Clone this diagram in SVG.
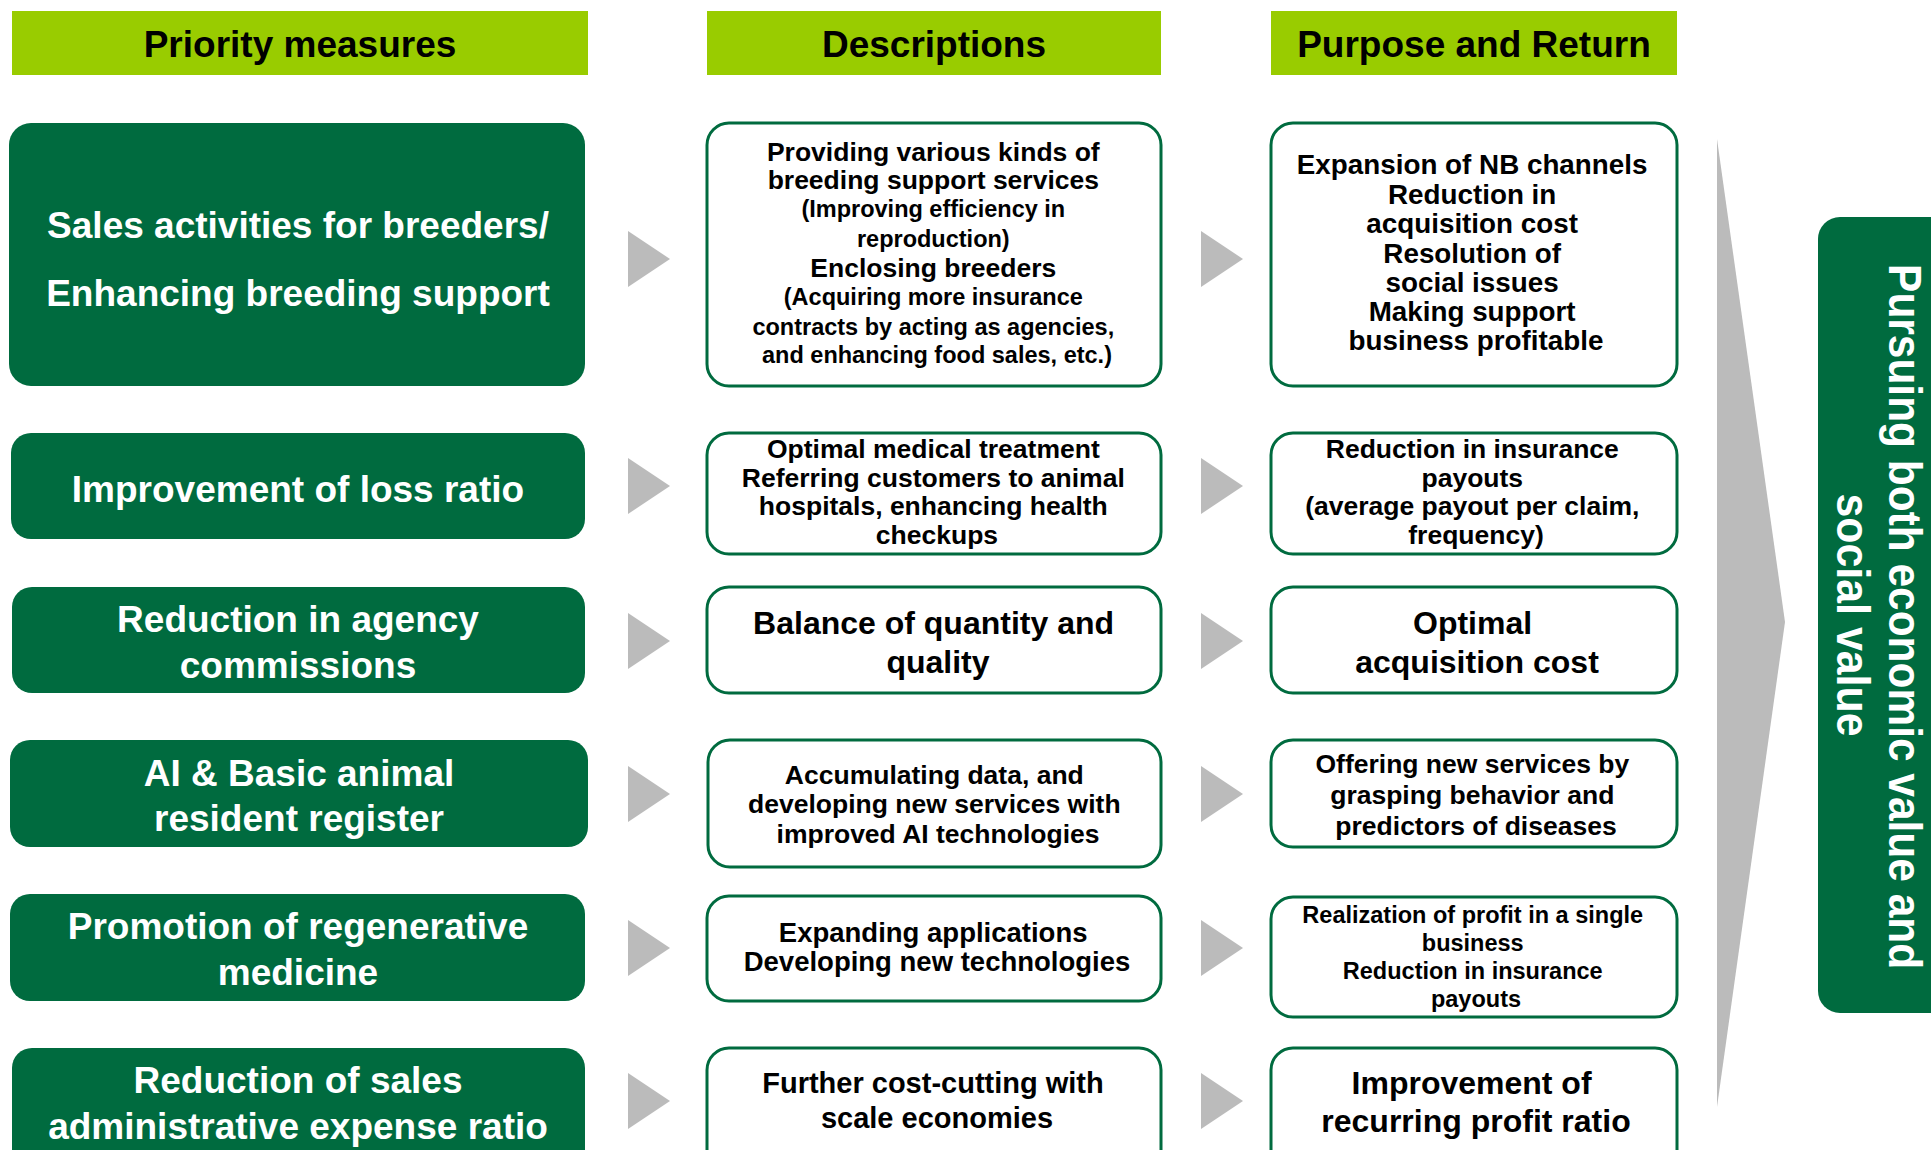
<svg xmlns="http://www.w3.org/2000/svg" width="1931" height="1150" viewBox="0 0 1931 1150">
  <style>
    text { font-family: "Liberation Sans", Arial, sans-serif; font-weight: bold; text-anchor: middle; }
    .hdr { fill: #99CC00; }
    .hdr-t { font-size: 37px; fill: #000000; }
    .measure { fill: #006B3F; }
    .measure-t { font-size: 37px; fill: #FFFFFF; }
    .card { fill: #FFFFFF; stroke: #006B3F; stroke-width: 3; }
    .card-t { fill: #000000; }
    .arrow { fill: #BBBBBB; }
    .goal { fill: #006B3F; }
    .goal-t { font-size: 46px; fill: #FFFFFF; }
  </style>

  <!-- column headers -->
  <g id="header-measures">
    <rect class="hdr" x="12" y="11" width="576" height="64"/>
    <text class="hdr-t" x="300" y="57">Priority measures</text>
  </g>
  <g id="header-descriptions">
    <rect class="hdr" x="707" y="11" width="454" height="64"/>
    <text class="hdr-t" x="934" y="57">Descriptions</text>
  </g>
  <g id="header-purpose">
    <rect class="hdr" x="1271" y="11" width="406" height="64"/>
    <text class="hdr-t" x="1474" y="57">Purpose and Return</text>
  </g>

  <!-- row 1 -->
  <g id="measure-breeders">
    <rect class="measure" x="9" y="123" width="576" height="263" rx="22"/>
    <text class="measure-t" x="298" y="238">Sales activities for breeders/</text>
    <text class="measure-t" x="298" y="306">Enhancing breeding support</text>
  </g>
  <g id="desc-breeders">
    <rect class="card" x="707" y="123" width="454" height="263" rx="22"/>
    <text class="card-t" x="937" font-size="26.5">
      <tspan x="937" y="161">Providing various kinds of</tspan>
      <tspan x="937" y="189">breeding support services</tspan>
      <tspan x="937" y="217" font-size="23.5">(Improving efficiency in</tspan>
      <tspan x="937" y="247" font-size="23.5">reproduction)</tspan>
      <tspan x="937" y="277">Enclosing breeders</tspan>
      <tspan x="937" y="305" font-size="23.5">(Acquiring more insurance</tspan>
      <tspan x="937" y="335" font-size="23.5">contracts by acting as agencies,</tspan>
      <tspan x="937" y="363" font-size="23.5">and enhancing food sales, etc.)</tspan>
    </text>
  </g>
  <g id="purpose-breeders">
    <rect class="card" x="1271" y="123" width="406" height="263" rx="22"/>
    <text class="card-t" x="1476" font-size="27.8">
      <tspan x="1476" y="174">Expansion of NB channels</tspan>
      <tspan x="1476" y="204">Reduction in</tspan>
      <tspan x="1476" y="233">acquisition cost</tspan>
      <tspan x="1476" y="263">Resolution of</tspan>
      <tspan x="1476" y="292">social issues</tspan>
      <tspan x="1476" y="321">Making support</tspan>
      <tspan x="1476" y="350">business profitable</tspan>
    </text>
  </g>

  <!-- row 2 -->
  <g id="measure-loss">
    <rect class="measure" x="11" y="433" width="574" height="106" rx="20"/>
    <text class="measure-t" x="298" y="502">Improvement of loss ratio</text>
  </g>
  <g id="desc-loss">
    <rect class="card" x="707" y="433" width="454" height="121" rx="22"/>
    <text class="card-t" x="937" font-size="26.5">
      <tspan x="937" y="458">Optimal medical treatment</tspan>
      <tspan x="937" y="486.5">Referring customers to animal</tspan>
      <tspan x="937" y="515">hospitals, enhancing health</tspan>
      <tspan x="937" y="543.5">checkups</tspan>
    </text>
  </g>
  <g id="purpose-loss">
    <rect class="card" x="1271" y="433" width="406" height="121" rx="22"/>
    <text class="card-t" x="1476" font-size="26.5">
      <tspan x="1476" y="458">Reduction in insurance</tspan>
      <tspan x="1476" y="486.5">payouts</tspan>
      <tspan x="1476" y="515">(average payout per claim,</tspan>
      <tspan x="1476" y="543.5">frequency)</tspan>
    </text>
  </g>

  <!-- row 3 -->
  <g id="measure-agency">
    <rect class="measure" x="12" y="587" width="573" height="106" rx="20"/>
    <text class="measure-t" x="298" y="632">Reduction in agency</text>
    <text class="measure-t" x="298" y="678">commissions</text>
  </g>
  <g id="desc-agency">
    <rect class="card" x="707" y="587" width="454" height="106" rx="22"/>
    <text class="card-t" x="938" font-size="32">
      <tspan x="938" y="634">Balance of quantity and</tspan>
      <tspan x="938" y="673">quality</tspan>
    </text>
  </g>
  <g id="purpose-agency">
    <rect class="card" x="1271" y="587" width="406" height="106" rx="22"/>
    <text class="card-t" x="1477" font-size="32">
      <tspan x="1477" y="634">Optimal</tspan>
      <tspan x="1477" y="673">acquisition cost</tspan>
    </text>
  </g>

  <!-- row 4 -->
  <g id="measure-ai">
    <rect class="measure" x="10" y="740" width="578" height="107" rx="20"/>
    <text class="measure-t" x="299" y="786">AI &amp; Basic animal</text>
    <text class="measure-t" x="299" y="831">resident register</text>
  </g>
  <g id="desc-ai">
    <rect class="card" x="708" y="740" width="453" height="127" rx="22"/>
    <text class="card-t" x="938" font-size="26.5">
      <tspan x="938" y="784">Accumulating data, and</tspan>
      <tspan x="938" y="813">developing new services with</tspan>
      <tspan x="938" y="843">improved AI technologies</tspan>
    </text>
  </g>
  <g id="purpose-ai">
    <rect class="card" x="1271" y="740" width="406" height="107" rx="22"/>
    <text class="card-t" x="1476" font-size="26.5">
      <tspan x="1476" y="773">Offering new services by</tspan>
      <tspan x="1476" y="804">grasping behavior and</tspan>
      <tspan x="1476" y="835">predictors of diseases</tspan>
    </text>
  </g>

  <!-- row 5 -->
  <g id="measure-regenerative">
    <rect class="measure" x="10" y="894" width="575" height="107" rx="20"/>
    <text class="measure-t" x="298" y="939">Promotion of regenerative</text>
    <text class="measure-t" x="298" y="985">medicine</text>
  </g>
  <g id="desc-regenerative">
    <rect class="card" x="707" y="896" width="454" height="105" rx="22"/>
    <text class="card-t" x="937" font-size="27.5">
      <tspan x="937" y="942">Expanding applications</tspan>
      <tspan x="937" y="971">Developing new technologies</tspan>
    </text>
  </g>
  <g id="purpose-regenerative">
    <rect class="card" x="1271" y="897" width="406" height="120" rx="22"/>
    <text class="card-t" x="1476" font-size="23.5">
      <tspan x="1476" y="923">Realization of profit in a single</tspan>
      <tspan x="1476" y="951">business</tspan>
      <tspan x="1476" y="979">Reduction in insurance</tspan>
      <tspan x="1476" y="1007">payouts</tspan>
    </text>
  </g>

  <!-- row 6 -->
  <g id="measure-expense">
    <rect class="measure" x="12" y="1048" width="573" height="130" rx="20"/>
    <text class="measure-t" x="298" y="1093">Reduction of sales</text>
    <text class="measure-t" x="298" y="1139">administrative expense ratio</text>
  </g>
  <g id="desc-expense">
    <rect class="card" x="707" y="1048" width="454" height="130" rx="22"/>
    <text class="card-t" x="937" font-size="29">
      <tspan x="937" y="1093">Further cost-cutting with</tspan>
      <tspan x="937" y="1128">scale economies</tspan>
    </text>
  </g>
  <g id="purpose-expense">
    <rect class="card" x="1271" y="1048" width="406" height="130" rx="22"/>
    <text class="card-t" x="1476" font-size="32">
      <tspan x="1476" y="1094">Improvement of</tspan>
      <tspan x="1476" y="1132">recurring profit ratio</tspan>
    </text>
  </g>

  <!-- overall goal -->
  <g id="goal">
    <rect class="goal" x="1818" y="217" width="150" height="796" rx="22"/>
    <text class="goal-t" transform="translate(1889,623) rotate(90)">
      <tspan x="0" y="0" textLength="705" lengthAdjust="spacingAndGlyphs">Pursuing both economic value and</tspan>
      <tspan x="-8" y="52" textLength="243" lengthAdjust="spacingAndGlyphs">social value</tspan>
    </text>
  </g>

  <!-- connectors: row arrows and the converging chevron -->
  <g id="connectors">
    <polygon class="arrow" points="628,231 670,259 628,287"/>
    <polygon class="arrow" points="1201,231 1243,259 1201,287"/>
    <polygon class="arrow" points="628,458 670,486 628,514"/>
    <polygon class="arrow" points="1201,458 1243,486 1201,514"/>
    <polygon class="arrow" points="628,613 670,641 628,669"/>
    <polygon class="arrow" points="1201,613 1243,641 1201,669"/>
    <polygon class="arrow" points="628,766 670,794 628,822"/>
    <polygon class="arrow" points="1201,766 1243,794 1201,822"/>
    <polygon class="arrow" points="628,920 670,948 628,976"/>
    <polygon class="arrow" points="1201,920 1243,948 1201,976"/>
    <polygon class="arrow" points="628,1073 670,1101 628,1129"/>
    <polygon class="arrow" points="1201,1073 1243,1101 1201,1129"/>
    <polygon class="arrow" points="1717,139 1785,622 1717,1107"/>
  </g>
</svg>
